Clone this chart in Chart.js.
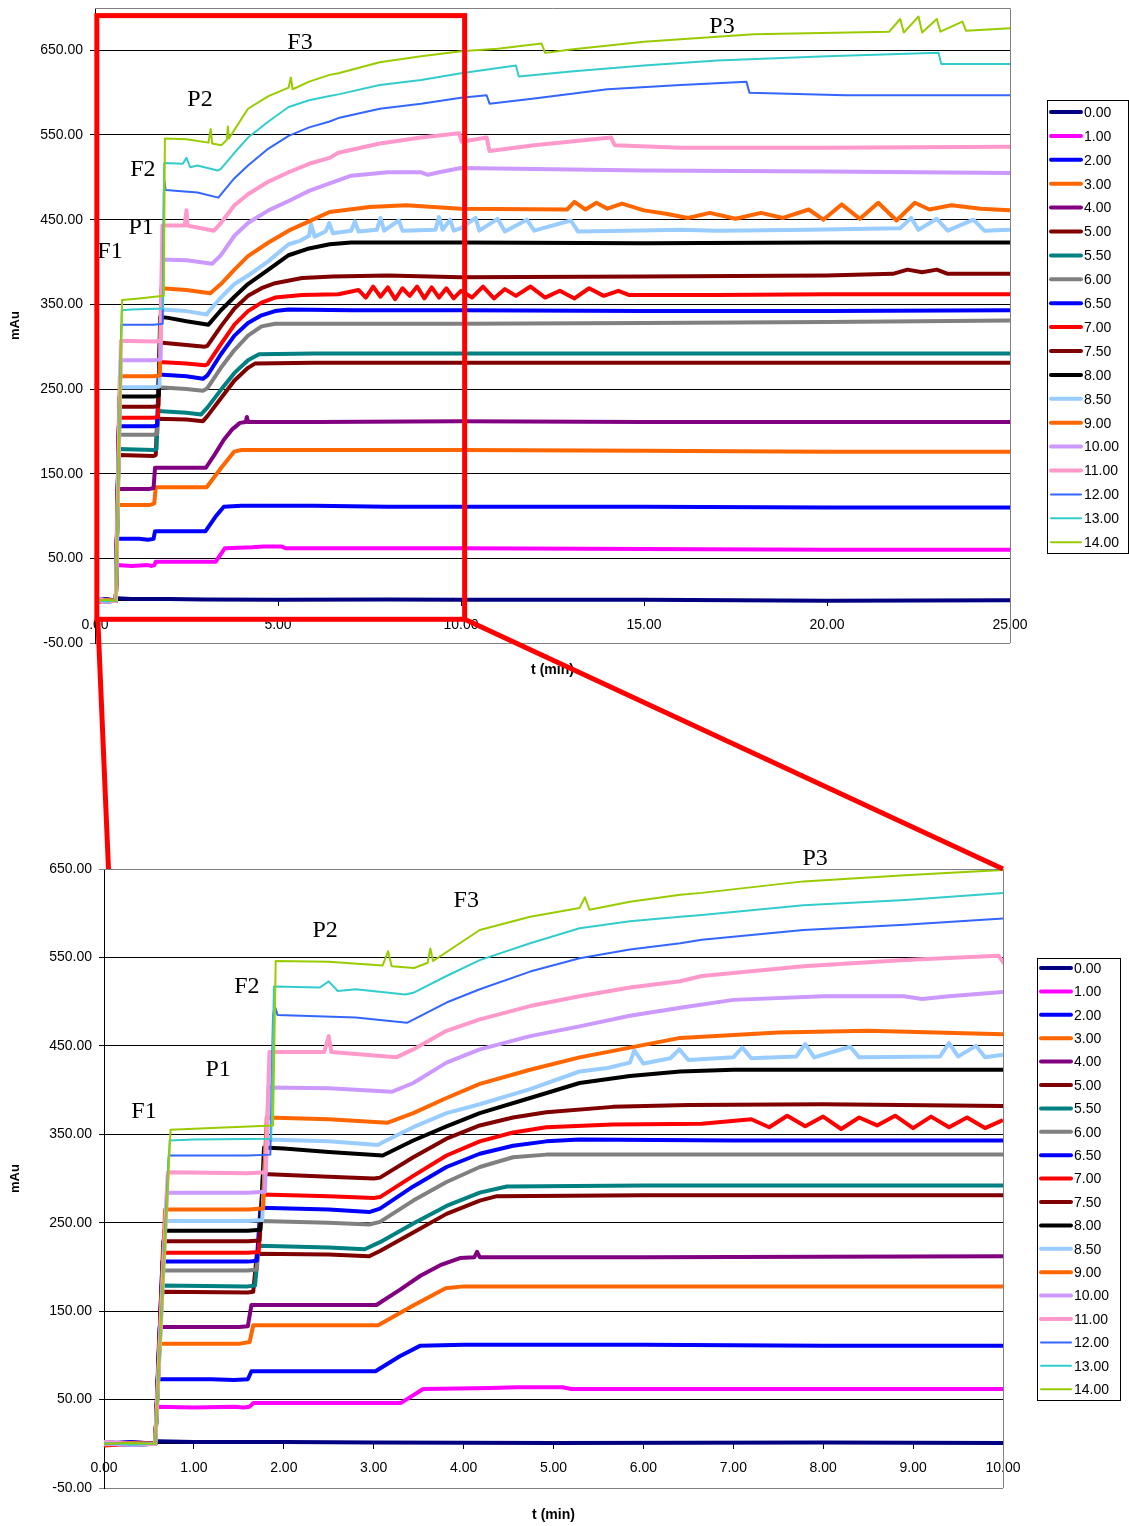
<!DOCTYPE html>
<html>
<head>
<meta charset="utf-8">
<script src="https://cdn.jsdelivr.net/npm/chart.js@4.4.1/dist/chart.umd.min.js"></script>
<style>
  body { margin: 0; background: #fff; }
  #page { position: relative; width: 1129px; height: 1526px; overflow: hidden; }
  canvas { position: absolute; left: 0; }
  #topChart { top: 0; }
  #bottomChart { top: 840px; }
  #frame { top: 0; pointer-events: none; }
</style>
</head>
<body>
<div id="page">
  <canvas id="topChart" width="1129" height="690"></canvas>
  <canvas id="bottomChart" width="1129" height="686"></canvas>
  <canvas id="frame" width="1129" height="1526"></canvas>
</div>
<script>
// series names (pH), colours and which ones use thin lines
const seriesLabels = ['0.00','1.00','2.00','3.00','4.00','5.00','5.50','6.00','6.50','7.00','7.50','8.00','8.50','9.00','10.00','11.00','12.00','13.00','14.00'];
const seriesColors = ['#000080','#FF00FF','#0000FF','#FF6600','#800080','#800000','#008080','#808080','#0000FF','#FF0000','#800000','#000000','#99CCFF','#FF6600','#CC99FF','#FF99CC','#3366FF','#33CCCC','#99CC00'];
const thinSeries = ['12.00','13.00','14.00'];

// axis ticks
const yTicks = [-50, 50, 150, 250, 350, 450, 550, 650];
const xTicksTop = [0, 5, 10, 15, 20, 25];
const xTicksBottom = [0, 1, 2, 3, 4, 5, 6, 7, 8, 9, 10];

// readings [t (min), mAu] for each run
const run00 = [[0,1],[0.3,-1],[0.57,0],[0.6,3],[1,2],[2,2],[3,1.5],[5,1],[8,1.5],[10,1],[15,1],[20,0],[25,0.5]];
const run10 = [[0,-1],[0.3,1],[0.57,0],[0.59,42],[1.0,41],[1.45,42],[1.55,41],[1.62,42],[1.66,46],[2.5,46],[3.3,46],[3.55,62],[4.3,63],[4.6,64],[5.1,64],[5.2,62],[7,62],[10,62],[15,61],[20,60],[25,60]];
const run20 = [[0,2],[0.3,0],[0.57,0],[0.6,73],[1.2,73],[1.45,72],[1.6,73],[1.64,82],[2.5,82],[3.02,82],[3.29,99],[3.52,111],[4,112],[6,112],[8,111],[10,111],[15,111],[20,110],[25,110]];
const run30 = [[0,0],[0.3,2],[0.57,0],[0.61,113],[1.5,113],[1.62,115],[1.66,134],[2.5,134],[3.05,134],[3.45,157],[3.8,176],[4.0,178],[6,178],[10,178],[15,177],[20,176],[25,176]];
const run40 = [[0,1],[0.3,-1],[0.57,0],[0.62,132],[1.5,132],[1.6,133],[1.64,157],[2.5,157],[3.03,157],[3.29,174],[3.52,190],[3.74,202],[3.96,210],[4.12,211],[4.15,217],[4.18,211],[6,211],[10,212],[15,211],[20,211],[25,211]];
const run50 = [[0,0],[0.3,1],[0.57,0],[0.64,172],[1.6,171],[1.66,172],[1.7,215],[2.5,214],[2.95,212],[3.07,218],[3.44,239],[3.81,260],[4.18,275],[4.37,280],[6,281],[10,281],[15,281],[20,281],[25,281]];
const run55 = [[0,-1],[0.3,0],[0.57,0],[0.64,179],[1.6,178],[1.68,179],[1.72,224],[2.5,222],[2.9,220],[3.07,228],[3.44,249],[3.81,269],[4.18,284],[4.48,291],[6,292],[10,292],[15,292],[20,292],[25,292]];
const run60 = [[0,1],[0.3,-1],[0.57,0],[0.65,196],[1.6,196],[1.7,197],[1.74,252],[2.5,250],[2.95,248],[3.07,251],[3.44,275],[3.81,296],[4.18,313],[4.55,324],[4.92,327],[6,327],[10,327],[15,328],[20,329],[25,331]];
const run65 = [[0,0],[0.3,2],[0.57,0],[0.65,206],[1.6,206],[1.7,207],[1.74,267],[2.5,265],[2.95,262],[3.07,266],[3.44,291],[3.81,313],[4.18,328],[4.55,337],[4.92,342],[5.29,344],[7,343],[10,343],[15,342],[20,342],[25,343]];
const run70 = [[0,-2],[0.3,0],[0.57,0],[0.66,216],[1.6,216],[1.72,217],[1.76,282],[2.5,280],[3.0,278],[3.07,279],[3.44,303],[3.81,326],[4.18,342],[4.55,352],[4.92,358],[5.66,361],[6.65,362],[7.2,367],[7.4,358],[7.6,371],[7.8,359],[8.0,370],[8.2,356],[8.4,369],[8.6,360],[8.8,371],[9.0,357],[9.2,370],[9.4,358],[9.6,369],[9.8,357],[10,366],[10.3,358],[10.6,371],[10.9,357],[11.2,368],[11.5,360],[11.9,371],[12.3,358],[12.7,366],[13.1,357],[13.5,369],[13.9,360],[14.3,366],[14.6,361],[17,361],[20,362],[25,362]];
const run75 = [[0,1],[0.3,0],[0.57,0],[0.66,229],[1.6,229],[1.73,230],[1.77,305],[2.5,302],[3.0,300],[3.07,301],[3.44,324],[3.81,345],[4.18,360],[4.55,369],[4.92,375],[5.66,381],[6.5,383],[8,384],[10,382],[15,383],[20,384],[21.8,386],[22.2,391],[22.6,388],[23,391],[23.3,386],[25,386]];
const run80 = [[0,0],[0.3,1],[0.57,0],[0.67,241],[1.6,241],[1.74,242],[1.78,335],[2.0,334],[2.5,330],[3.1,326],[3.44,343],[3.81,359],[4.18,374],[4.74,391],[5.29,408],[5.85,416],[6.41,421],[7,423],[10,423],[15,422],[20,423],[25,423]];
const run85 = [[0,2],[0.3,-1],[0.57,0],[0.68,252],[1.6,252],[1.76,253],[1.8,344],[2.5,342],[3.05,338],[3.1,341],[3.44,358],[3.81,374],[4.18,384],[4.74,401],[5.29,421],[5.6,425],[5.85,431],[5.9,445],[6.0,430],[6.3,436],[6.4,446],[6.5,434],[7.0,437],[7.1,448],[7.2,436],[7.7,438],[7.8,452],[7.9,437],[8.3,449],[8.4,437],[9.3,438],[9.4,453],[9.5,438],[9.7,450],[9.8,437],[10,440],[10.4,452],[10.5,437],[11,451],[11.2,436],[11.8,450],[12,437],[13,449],[13.2,436],[14.5,437],[16,438],[17,437],[19.5,438],[22,440],[22.3,452],[22.5,438],[23,451],[23.3,437],[24,450],[24.3,437],[25,438]];
const run90 = [[0,-1],[0.3,1],[0.57,0],[0.68,265],[1.6,265],[1.77,266],[1.81,369],[2.5,367],[3.15,363],[3.44,374],[3.81,391],[4.18,407],[4.74,423],[5.29,437],[5.85,448],[6.41,459],[7.5,465],[8.5,467],[10,463],[12.9,462],[13.1,471],[13.4,462],[13.7,470],[14.0,463],[14.4,469],[15,461],[15.6,457],[16.2,452],[16.8,458],[17.5,451],[18.2,458],[18.8,452],[19.5,462],[19.9,450],[20.4,468],[20.9,451],[21.4,470],[21.9,449],[22.4,470],[22.8,462],[23.4,467],[24.2,463],[25,461]];
const run100 = [[0,0],[0.3,-1],[0.57,0],[0.7,284],[1.6,284],[1.79,285],[1.83,403],[2.5,402],[3.2,398],[3.44,408],[3.81,431],[4.18,446],[4.74,461],[5.29,472],[5.85,484],[6.41,493],[7,502],[8,506],[8.9,506],[9.1,503],[9.4,506],[10,511],[15,508],[20,507],[25,505]];
const run110 = [[0,2],[0.3,0],[0.57,0],[0.71,307],[1.6,306],[1.8,307],[1.84,443],[2.45,443],[2.5,461],[2.53,443],[3.25,437],[3.44,446],[3.81,467],[4.18,480],[4.74,495],[5.29,506],[5.85,516],[6.41,523],[6.65,529],[7.78,540],[8.91,547],[9.95,552],[10.02,542],[10.7,547],[10.78,531],[12,538],[14.1,547],[14.2,538],[16,535],[20,535],[25,536]];
const run120 = [[0,0],[0.3,1],[0.57,0],[0.72,326],[1.6,326],[1.85,327],[1.88,485],[1.9,495],[1.93,485],[2.8,482],[3.37,476],[3.81,499],[4.18,514],[4.74,534],[5.29,549],[5.85,559],[6.41,566],[6.65,570],[7.78,581],[8.91,587],[10,594],[10.7,597],[10.78,587],[12,593],[14,604],[16,609],[17.8,613],[17.88,600],[20.5,597],[25,597]];
const run130 = [[0,1],[0.3,-1],[0.57,0],[0.73,343],[1.0,344],[1.86,345],[1.89,517],[2.4,516],[2.5,523],[2.6,512],[2.8,514],[3.35,508],[3.44,510],[3.81,529],[4.18,547],[4.74,566],[5.29,583],[5.85,591],[6.41,596],[6.65,598],[7.78,609],[8.91,615],[10,623],[11.5,632],[11.58,619],[13,625],[15,632],[17,638],[20,643],[23.05,647],[23.12,634],[25,634]];
const run140 = [[0,0],[0.3,1],[0.57,0],[0.74,355],[1.2,357],[1.88,360],[1.91,546],[2.5,545],[3.1,541],[3.16,557],[3.2,540],[3.45,538],[3.6,544],[3.63,560],[3.66,546],[4.18,581],[4.74,596],[5.29,606],[5.35,618],[5.4,604],[5.85,613],[6.41,621],[6.65,623],[7.78,636],[8.91,643],[10,649],[11,652],[12.2,658],[12.3,647],[13,651],[15,660],[17,666],[18,669],[21.7,672],[22,687],[22.1,671],[22.5,690],[22.6,671],[23,687],[23.1,672],[23.7,684],[23.8,673],[25,676]];

const seriesData = [run00, run10, run20, run30, run40, run50, run55, run60, run65, run70, run75, run80, run85, run90, run100, run110, run120, run130, run140];

// zoomed window drawn on the top chart: [t0, t1, y0, y1]
const frameBox = [0.05, 10.1, -22, 691];

const SANS = '"Liberation Sans", Arial, sans-serif';
const SERIF = '"Liberation Serif", "Times New Roman", serif';

function makeDatasets() {
  return seriesLabels.map((lab, i) => ({
    label: lab,
    data: seriesData[i].map(p => ({ x: p[0], y: p[1] })),
    borderColor: seriesColors[i],
    backgroundColor: seriesColors[i],
    borderWidth: thinSeries.includes(lab) ? 2 : 4,
    borderJoinStyle: 'round',
    pointRadius: 0,
    tension: 0,
    fill: false,
    order: seriesLabels.length - i
  }));
}

// extra drawing: plot border, F/P notes, x title, boxed legend
const extrasPlugin = {
  id: 'extras',
  afterDraw(chart, args, opts) {
    const { ctx, chartArea: a } = chart;
    const xs = chart.scales.x, ys = chart.scales.y;
    ctx.save();
    ctx.strokeStyle = '#808080';
    ctx.lineWidth = 1;
    ctx.beginPath();
    ctx.moveTo(a.left, Math.round(a.top) + 0.5);
    ctx.lineTo(Math.round(a.right) + 0.5, Math.round(a.top) + 0.5);
    ctx.lineTo(Math.round(a.right) + 0.5, a.bottom);
    ctx.stroke();

    ctx.fillStyle = '#000';
    ctx.textAlign = 'center';
    ctx.textBaseline = 'middle';
    ctx.font = '24px ' + SERIF;
    opts.notes.forEach(n => ctx.fillText(n.text, xs.getPixelForValue(n.t), ys.getPixelForValue(n.v)));

    ctx.font = 'bold 14px ' + SANS;
    ctx.fillText('t (min)', (a.left + a.right) / 2, a.bottom + 27);

    const L = opts.legend;
    ctx.fillStyle = '#fff';
    ctx.fillRect(L.left, L.top, L.width, L.height);
    ctx.strokeStyle = '#000';
    ctx.strokeRect(L.left + 0.5, L.top + 0.5, L.width, L.height);
    ctx.textAlign = 'left';
    ctx.font = '14px ' + SANS;
    chart.data.datasets.forEach((ds, i) => {
      const yy = L.top + L.first + i * L.row;
      ctx.strokeStyle = ds.borderColor;
      ctx.lineWidth = ds.borderWidth;
      ctx.lineCap = 'round';
      ctx.beginPath();
      ctx.moveTo(L.left + 4, yy);
      ctx.lineTo(L.left + 34, yy);
      ctx.stroke();
      ctx.fillStyle = '#000';
      ctx.fillText(ds.label, L.left + 37, yy + 1);
    });
    ctx.restore();
  }
};

function makeChart(id, cfg) {
  const grayAt = cfg.grayAt;
  return new Chart(document.getElementById(id), {
    type: 'line',
    data: { datasets: makeDatasets() },
    plugins: [extrasPlugin],
    options: {
      responsive: false,
      devicePixelRatio: 1,
      animation: false,
      layout: { padding: cfg.padding },
      plugins: {
        legend: { display: false },
        tooltip: { enabled: false },
        extras: { notes: cfg.notes, legend: cfg.legend }
      },
      scales: {
        x: {
          type: 'linear',
          min: 0,
          max: cfg.xMax,
          position: { y: 0 },
          afterBuildTicks: s => { s.ticks = cfg.xTicks.map(v => ({ value: v })); },
          ticks: {
            callback: v => Number(v).toFixed(2),
            font: { family: SANS, size: 14 },
            color: '#000',
            padding: 11,
            maxRotation: 0,
            autoSkip: false
          },
          grid: { drawOnChartArea: false, tickLength: 5, color: '#000' },
          border: { color: '#000' }
        },
        y: {
          min: -50,
          max: cfg.yMax,
          afterBuildTicks: s => { s.ticks = yTicks.map(v => ({ value: v })); },
          afterFit: s => { s.width = cfg.axisWidth; s.paddingTop = 0; s.paddingBottom = 0; },
          ticks: {
            callback: v => Number(v).toFixed(2),
            font: { family: SANS, size: 14 },
            color: '#000',
            padding: 7
          },
          grid: {
            color: c => (c.tick && grayAt.includes(c.tick.value)) ? '#808080' : '#000',
            tickLength: 5,
            lineWidth: 1
          },
          border: { color: '#000' },
          title: {
            display: true,
            text: 'mAu',
            color: '#000',
            font: { family: SANS, size: 13, weight: 'bold' },
            padding: { top: 8, bottom: 0 }
          }
        }
      }
    }
  });
}

const topChart = makeChart('topChart', {
  xMax: 25, yMax: 700, xTicks: xTicksTop, axisWidth: 95, grayAt: [-50],
  padding: { top: 8, bottom: 47, left: 0, right: 119 },
  notes: [
    { text: 'F1', t: 0.41, v: 412 }, { text: 'P1', t: 1.26, v: 441 },
    { text: 'F2', t: 1.31, v: 509 }, { text: 'P2', t: 2.87, v: 592 },
    { text: 'F3', t: 5.6, v: 659 }, { text: 'P3', t: 17.13, v: 678 }
  ],
  legend: { left: 1047, top: 100, width: 81, height: 453, first: 12, row: 23.9 }
});

const bottomChart = makeChart('bottomChart', {
  xMax: 10, yMax: 650, xTicks: xTicksBottom, axisWidth: 104, grayAt: [-50, 650],
  padding: { top: 29, bottom: 38, left: 0, right: 126 },
  notes: [
    { text: 'F1', t: 0.445, v: 376 }, { text: 'P1', t: 1.27, v: 423 },
    { text: 'F2', t: 1.59, v: 517 }, { text: 'P2', t: 2.46, v: 580 },
    { text: 'F3', t: 4.03, v: 614 }, { text: 'P3', t: 7.91, v: 662 }
  ],
  legend: { left: 1037, top: 118, width: 83, height: 442, first: 10, row: 23.4 }
});

// red zoom frame on the top chart plus the two lines to the bottom chart
function drawFrame() {
  const ctx = document.getElementById('frame').getContext('2d');
  const offset = 840;
  const tx = topChart.scales.x, ty = topChart.scales.y;
  const bx = bottomChart.scales.x, by = bottomChart.scales.y;
  const l = tx.getPixelForValue(frameBox[0]);
  const r = tx.getPixelForValue(frameBox[1]);
  const b = ty.getPixelForValue(frameBox[2]);
  const t = ty.getPixelForValue(frameBox[3]);
  ctx.strokeStyle = '#FF0000';
  ctx.lineWidth = 5;
  ctx.strokeRect(l, t, r - l, b - t);
  ctx.beginPath();
  ctx.moveTo(l + 1, b);
  ctx.lineTo(bx.getPixelForValue(frameBox[0]), offset + by.getPixelForValue(650));
  ctx.moveTo(r, b);
  ctx.lineTo(bx.getPixelForValue(10), offset + by.getPixelForValue(650));
  ctx.stroke();
}
drawFrame();
</script>
</body>
</html>
